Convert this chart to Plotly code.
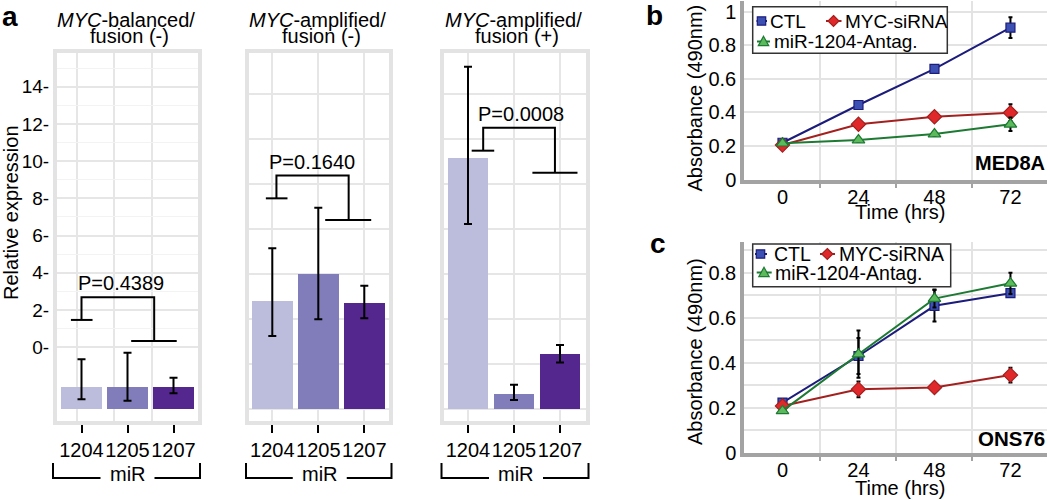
import plotly.graph_objects as go

W, H = 1050, 500          # target picture size (all positions below are in these pixels)
H_FIG = 511               # figure height; the photograph maps this height onto 500 px
def fx(x):
    return x / W
def fy(y):
    return 1 - y / H

FONT = "Liberation Sans, Arial, Helvetica, sans-serif"

# ---------------- data: panel a (relative expression) ----------------
mir_ids = ["1204", "1205", "1207"]
bar_colors = ["#bcbddc", "#807dba", "#54278f"]
title_line1 = ["<i>MYC</i>-balanced/", "<i>MYC</i>-amplified/", "<i>MYC</i>-amplified/"]
title_line2 = ["fusion (-)", "fusion (-)", "fusion (+)"]
bar_base = -3.33

bal_fneg_top = [-2.13, -2.13, -2.14]
bal_fneg_hi = [-0.64, -0.29, -1.63]
bal_fneg_lo = [-2.79, -2.87, -2.47]

amp_fneg_top = [2.49, 3.92, 2.36]
amp_fneg_hi = [5.32, 7.50, 3.31]
amp_fneg_lo = [0.61, 1.50, 1.56]

amp_fpos_top = [10.18, -2.51, -0.38]
amp_fpos_hi = [15.07, -2.01, 0.12]
amp_fpos_lo = [6.62, -2.83, -0.81]

p_labels = ["P=0.4389", "P=0.1640", "P=0.0008"]
p_label_x = [0.86, 0.86, 1.15]
p_label_y = [3.47, 9.94, 12.51]
bracket_top_y = [2.69, 9.22, 11.79]
bracket_left_y = [1.47, 8.00, 10.56]
bracket_right_y = [0.34, 6.84, 9.38]
bracket_left_x = [0.00, 0.09, 0.33]
bracket_right_x = [1.58, 1.66, 1.89]
cap_left_x = [(-0.23, 0.24), (-0.14, 0.33), (0.08, 0.57)]
cap_right_x = [(1.08, 2.07), (1.15, 2.15), (1.40, 2.38)]

a_yticks = [0, 2, 4, 6, 8, 10, 12, 14]
a_yticktext = ["0-", "2-", "4-", "6-", "8-", "10-", "12-", "14-"]

# ---------------- data: panels b, c (absorbance) ----------------
hours = [0, 24, 48, 72]
series_names = ["CTL", "MYC-siRNA", "miR-1204-Antag."]

med8a_ctl = [0.219, 0.444, 0.659, 0.905]
med8a_ctl_err = [0.008, 0.010, 0.015, 0.062]
med8a_myc = [0.206, 0.329, 0.374, 0.398]
med8a_myc_err = [0.008, 0.010, 0.010, 0.050]
med8a_mir = [0.216, 0.235, 0.271, 0.329]
med8a_mir_err = [0.008, 0.010, 0.012, 0.040]

ons76_ctl = [0.222, 0.429, 0.652, 0.708]
ons76_ctl_err = [0.008, 0.080, 0.070, 0.010]
ons76_myc = [0.207, 0.281, 0.289, 0.344]
ons76_myc_err = [0.008, 0.035, 0.010, 0.033]
ons76_mir = [0.185, 0.437, 0.684, 0.752]
ons76_mir_err = [0.008, 0.105, 0.040, 0.047]

# ---------------- styles ----------------
line_colors = ["#1c1c7c", "#a3201f", "#1d7a33"]
fill_colors = ["#3c50b4", "#e0282a", "#5cba5c"]
symbols = ["square", "diamond", "triangle-up"]
marker_sizes = [9, 11, 11]

fig = go.Figure()

# ---------------- panel a ----------------
a_dom_x = [(57, 198), (249, 389), (444, 586)]
a_center0 = [81.5, 272.3, 468.0]
A_UNIT = 46.0
A_TOP, A_BOT = 53, 421
A_ZERO, A_SCALE = 347.3, 18.62
a_yrange = [(A_ZERO - A_BOT) / A_SCALE, (A_ZERO - A_TOP) / A_SCALE]
grid_step_px = 45.0
a_grid_vals = [bar_base + k * grid_step_px / A_SCALE for k in range(8)]

groups = [(bal_fneg_top, bal_fneg_hi, bal_fneg_lo),
          (amp_fneg_top, amp_fneg_hi, amp_fneg_lo),
          (amp_fpos_top, amp_fpos_hi, amp_fpos_lo)]

for i in range(3):
    sfx = "" if i == 0 else str(i + 1)
    xa, ya = "x" + sfx, "y" + sfx
    tops, hi, lo = groups[i]
    fig.add_trace(go.Bar(
        x=[0, 1, 2], y=[t - bar_base for t in tops], base=bar_base,
        marker=dict(color=bar_colors, line=dict(width=0)), width=0.89,
        xaxis=xa, yaxis=ya, showlegend=False, hoverinfo="skip"))
    fig.add_trace(go.Scatter(
        x=[0, 1, 2], y=tops, mode="markers",
        marker=dict(size=2, color="rgba(0,0,0,0)"),
        error_y=dict(type="data", symmetric=False,
                     array=[h - t for h, t in zip(hi, tops)],
                     arrayminus=[t - l for t, l in zip(tops, lo)],
                     color="black", thickness=2, width=4),
        xaxis=xa, yaxis=ya, showlegend=False, hoverinfo="skip"))
    cl0, cl1 = cap_left_x[i]
    cr0, cr1 = cap_right_x[i]
    fig.add_trace(go.Scatter(
        x=[cl0, cl1, None, bracket_left_x[i], bracket_left_x[i], bracket_right_x[i], bracket_right_x[i], None, cr0, cr1],
        y=[bracket_left_y[i], bracket_left_y[i], None, bracket_left_y[i], bracket_top_y[i], bracket_top_y[i], bracket_right_y[i], None, bracket_right_y[i], bracket_right_y[i]],
        mode="lines", line=dict(color="black", width=2),
        xaxis=xa, yaxis=ya, showlegend=False, hoverinfo="skip"))
    fig.add_annotation(x=p_label_x[i], y=p_label_y[i], xref=xa, yref=ya,
                       text=p_labels[i], showarrow=False,
                       font=dict(size=20, color="black"), xanchor="center", yanchor="middle")

    d0, d1 = a_dom_x[i]
    c0 = a_center0[i]
    xrange = [(d0 - c0) / A_UNIT, (d1 - c0) / A_UNIT]
    xaxis = dict(domain=[fx(d0), fx(d1)], range=xrange, anchor=ya,
                 tickmode="array", tickvals=[0, 1, 2], ticktext=mir_ids, tickangle=0,
                 ticks="outside", ticklen=8, tickwidth=1.5, tickcolor="black",
                 showline=True, mirror=True, linecolor="#e3e3e3", linewidth=4,
                 showgrid=(i > 0), gridcolor="#e6e6e6", gridwidth=1.5,
                 zeroline=False, tickfont=dict(size=20, color="black"), fixedrange=True)
    if i == 0:
        xaxis["minor"] = dict(tickmode="array", tickvals=[-0.1, 0.71, 1.53], showgrid=True,
                              gridcolor="#e6e6e6", gridwidth=1.5, ticks="")
    yaxis = dict(domain=[fy(A_BOT), fy(A_TOP)], range=a_yrange, anchor=xa,
                 showline=True, mirror=True, linecolor="#e3e3e3", linewidth=4,
                 zeroline=False, ticks="", fixedrange=True)
    if i == 0:
        yaxis.update(tickmode="array", tickvals=a_yticks, ticktext=a_yticktext,
                     tickfont=dict(size=19, color="black"),
                     showgrid=True, gridcolor="#e6e6e6", gridwidth=1.5,
                     minor=dict(tickmode="array", tickvals=[1, 3, 5, 7, 9, 11, 13, 15],
                                showgrid=True, gridcolor="#f3f3f3", gridwidth=1, ticks=""))
    else:
        yaxis.update(tickmode="array", tickvals=a_grid_vals, showticklabels=False,
                     showgrid=True, gridcolor="#e6e6e6", gridwidth=1.5)
    fig.layout["xaxis" + sfx] = xaxis
    fig.layout["yaxis" + sfx] = yaxis

    # titles
    box_c = (d0 + d1) / 2
    fig.add_annotation(x=fx(box_c - 2), y=fy(19.5), xref="paper", yref="paper",
                       text=title_line1[i], showarrow=False, font=dict(size=20),
                       xanchor="center", yanchor="middle")
    fig.add_annotation(x=fx(box_c + 2), y=fy(36.5), xref="paper", yref="paper",
                       text=title_line2[i], showarrow=False, font=dict(size=20),
                       xanchor="center", yanchor="middle")

# miR brackets
shapes = []
mir_br = [(53, 200), (246, 391.5), (441.5, 588.5)]
for (l, r) in mir_br:
    c = (l + r) / 2
    for seg in [[(l, 463), (l, 478), (c - 26, 478)], [(c + 28, 478), (r, 478), (r, 463)]]:
        p = "M " + " L ".join(f"{fx(x):.5f},{fy(y):.5f}" for x, y in seg)
        shapes.append(dict(type="path", xref="paper", yref="paper", path=p,
                           line=dict(color="black", width=2)))
    fig.add_annotation(x=fx(c + 1), y=fy(474), xref="paper", yref="paper", text="miR",
                       showarrow=False, font=dict(size=20), xanchor="center", yanchor="middle")

fig.add_annotation(x=fx(11), y=fy(213), xref="paper", yref="paper", text="Relative expression",
                   textangle=-90, showarrow=False, font=dict(size=20),
                   xanchor="center", yanchor="middle")

# ---------------- panels b, c ----------------
BC_X0, BC_X1 = 744, 1047
X_ZERO, X_SCALE = 782.5, 3.166
bc_xrange = [(BC_X0 - X_ZERO) / X_SCALE, (BC_X1 - X_ZERO) / X_SCALE]

panels = [
    dict(sfx="4", top=1, bot=179.5, scale=167.8,
         data=[(med8a_ctl, med8a_ctl_err), (med8a_myc, med8a_myc_err), (med8a_mir, med8a_mir_err)],
         yticks=[0, 0.2, 0.4, 0.6, 0.8, 1.0], minor=None),
    dict(sfx="5", top=242, bot=452.5, scale=225.0,
         data=[(ons76_ctl, ons76_ctl_err), (ons76_myc, ons76_myc_err), (ons76_mir, ons76_mir_err)],
         yticks=[0, 0.2, 0.4, 0.6, 0.8], minor=0.1),
]

for pn in panels:
    sfx = pn["sfx"]
    xa, ya = "x" + sfx, "y" + sfx
    for k, (vals, errs) in enumerate(pn["data"]):
        fig.add_trace(go.Scatter(
            x=hours, y=vals, mode="lines+markers", name=series_names[k],
            line=dict(color=line_colors[k], width=2),
            marker=dict(symbol=symbols[k], size=marker_sizes[k], color=fill_colors[k],
                        line=dict(color=line_colors[k], width=1.2)),
            error_y=dict(type="data", array=errs, color="black", thickness=2, width=2),
            xaxis=xa, yaxis=ya, showlegend=False, hoverinfo="skip"))
    ytop = (pn["bot"] - pn["top"]) / pn["scale"]
    fig.layout["xaxis" + sfx] = dict(
        domain=[fx(BC_X0), fx(BC_X1)], range=bc_xrange, anchor=ya,
        tickmode="array", tickvals=hours, ticks="", showgrid=False,
        showline=True, linecolor="#a3a3a3", linewidth=3.5, zeroline=False,
        tickfont=dict(size=20, color="black"), fixedrange=True, ticklabelstandoff=-3,
        minor=dict(tickmode="array", tickvals=[12, 36, 60], showgrid=True,
                   gridcolor="#e3e3e3", gridwidth=1.5, ticks="outside", ticklen=5,
                   tickcolor="#a3a3a3", tickwidth=2))
    yax = dict(
        domain=[fy(pn["bot"]), fy(pn["top"])], range=[0, ytop], anchor=xa,
        tickmode="array", tickvals=pn["yticks"], ticks="", showgrid=True,
        gridcolor="#e3e3e3", gridwidth=1.5, showline=True, linecolor="#a3a3a3",
        linewidth=3.5, zeroline=False, tickfont=dict(size=20, color="black"), fixedrange=True)
    if pn["minor"]:
        yax["minor"] = dict(dtick=pn["minor"], showgrid=True, gridcolor="#e3e3e3", gridwidth=1.5, ticks="")
    fig.layout["yaxis" + sfx] = yax

for ty in [98, 351.5]:
    fig.add_annotation(x=fx(694.5), y=fy(ty), xref="paper", yref="paper", text="Absorbance (490nm)",
                       textangle=-90, showarrow=False, font=dict(size=20),
                       xanchor="center", yanchor="middle")
for ty in [211.5, 488]:
    fig.add_annotation(x=fx(900), y=fy(ty), xref="paper", yref="paper", text="Time (hrs)",
                       showarrow=False, font=dict(size=20), xanchor="center", yanchor="middle")

fig.add_annotation(x=fx(1047), y=fy(163.5), xref="paper", yref="paper", text="<b>MED8A</b>",
                   showarrow=False, font=dict(size=20), xanchor="right", yanchor="middle")
fig.add_annotation(x=fx(1047), y=fy(438.5), xref="paper", yref="paper", text="<b>ONS76</b>",
                   showarrow=False, font=dict(size=20.5), xanchor="right", yanchor="middle")

# panel letters
for letter, (lx, ly) in zip(["a", "b", "c"], [(10, 16), (654, 15), (658, 243)]):
    fig.add_annotation(x=fx(lx), y=fy(ly), xref="paper", yref="paper", text=f"<b>{letter}</b>",
                       showarrow=False, font=dict(size=28), xanchor="center", yanchor="middle")

# ---------------- manual legends ----------------
def sym_shapes(kind, x, y, s, fill, edge):
    if kind == "square":
        return dict(type="rect", xref="paper", yref="paper",
                    x0=fx(x - s), x1=fx(x + s), y0=fy(y + s), y1=fy(y - s),
                    fillcolor=fill, line=dict(color=edge, width=1.2), layer="above")
    if kind == "diamond":
        pts = [(x, y - s), (x + s, y), (x, y + s), (x - s, y)]
    else:
        pts = [(x, y - s), (x + s, y + 0.8 * s), (x - s, y + 0.8 * s)]
    p = "M " + " L ".join(f"{fx(a):.5f},{fy(b):.5f}" for a, b in pts) + " Z"
    return dict(type="path", xref="paper", yref="paper", path=p, fillcolor=fill,
                line=dict(color=edge, width=1.2), layer="above")

legends = [
    dict(box=(752.7, 947.3, 6.7, 53.3), font=19,
         items=[(756.5, 767, 761.5, 21, 767.5), (826, 841.5, 833.5, 21, 843), (757, 770, 763.5, 41.5, 771.5)]),
    dict(box=(752.7, 950.7, 244, 286.7), font=19.5,
         items=[(755, 767, 760.5, 254, 771.5), (820, 835, 827.3, 254, 836.5), (756.7, 771.7, 764, 272.5, 773)]),
]
sym_half = [4.2, 5.5, 5.2]
for lg in legends:
    x0, x1, y0, y1 = lg["box"]
    shapes.append(dict(type="rect", xref="paper", yref="paper", x0=fx(x0), x1=fx(x1),
                       y0=fy(y1), y1=fy(y0), fillcolor="white",
                       line=dict(color="#333333", width=1.5), layer="above"))
    for k, (lx0, lx1, mx, my, tx) in enumerate(lg["items"]):
        shapes.append(dict(type="line", xref="paper", yref="paper", x0=fx(lx0), x1=fx(lx1),
                           y0=fy(my), y1=fy(my), line=dict(color=line_colors[k], width=2), layer="above"))
        shapes.append(sym_shapes(symbols[k], mx, my, sym_half[k], fill_colors[k], line_colors[k]))
        fig.add_annotation(x=fx(tx), y=fy(my), xref="paper", yref="paper", text=series_names[k],
                           showarrow=False, font=dict(size=lg["font"]), xanchor="left", yanchor="middle")

fig.update_layout(
    width=W, height=H_FIG, margin=dict(l=0, r=0, t=0, b=0),
    paper_bgcolor="white", plot_bgcolor="white",
    font=dict(family=FONT, color="black"),
    showlegend=False, bargap=0, shapes=shapes,
)

fig.write_html("out.html", config={"displayModeBar": False},
               post_script="document.documentElement.style.margin='0';document.body.style.margin='0';")
